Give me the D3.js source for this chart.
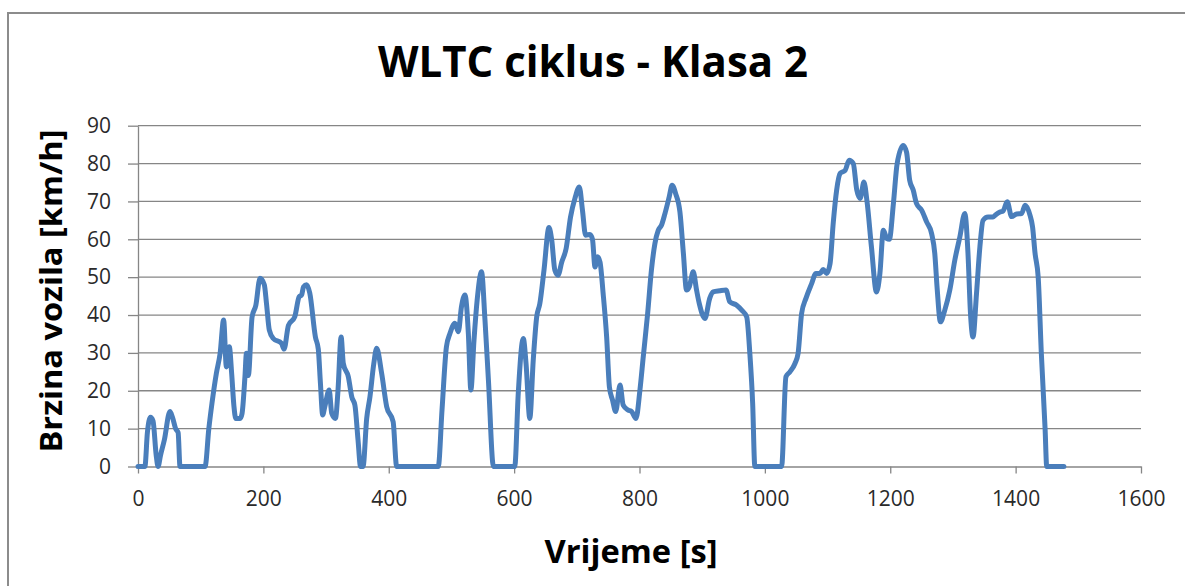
<!DOCTYPE html>
<html>
<head>
<meta charset="utf-8">
<script src="https://cdn.jsdelivr.net/npm/d3@7"></script>
<style>
  html, body { margin: 0; padding: 0; background: #ffffff; }
  svg { display: block; }
  text { font-family: "Open Sans", "Liberation Sans", sans-serif; }
</style>
</head>
<body>
<svg id="chart" width="1185" height="586"></svg>
<script>
// WLTC class 2 driving cycle: time [s] and vehicle speed [km/h]
const timeS = [
  0, 11, 15, 20, 24, 29, 32, 36, 42, 51, 55, 60, 64, 67, 107, 113, 118, 125, 131, 136.6,
  141, 145.7, 149.4, 153, 156, 163, 166, 170.6, 173, 176, 182, 188, 194.6, 201.5, 205, 209.5,
  215.8, 229, 233, 240, 250, 257, 261, 264, 269, 274, 283, 287.6, 291, 294.6, 298, 305, 309,
  315, 319, 324, 327.5, 335.5, 341, 346, 351, 355, 359, 364.8, 370, 376, 380.7, 388.7, 396.7,
  407, 412.6, 479, 485, 492, 497.6, 505.6, 511, 516, 521.6, 527, 531, 536, 541, 548, 553.5,
  559, 567, 601, 606.6, 614.6, 619, 625, 630.5, 636, 641, 647.6, 655.6, 660, 665, 670, 676,
  683, 690, 697, 704, 709, 714, 721, 725, 729, 733, 737, 742, 747.6, 752, 757, 762, 769, 774,
  782, 787.5, 794.4, 800.7, 806, 813, 819, 824.6, 830, 835, 840.6, 847.4, 852, 857.6, 864.5,
  870, 875, 879.5, 885.7, 891, 895.4, 904.4, 912, 917.7, 928, 938, 944, 955, 963, 971, 976,
  980.5, 984, 1026.7, 1033.6, 1040, 1048, 1053, 1058.6, 1065.5, 1074.6, 1081.5, 1088, 1093,
  1098.6, 1104, 1109, 1114.5, 1120, 1128, 1134.5, 1141, 1146.6, 1152, 1158, 1163, 1170, 1178,
  1183.5, 1189, 1194.6, 1198.6, 1205, 1211, 1220.7, 1226, 1231, 1236.6, 1242, 1250, 1258,
  1266, 1271, 1275, 1280, 1287, 1295, 1303, 1311, 1319, 1324, 1328, 1332, 1337.6, 1343, 1348,
  1356, 1364, 1367, 1375, 1380, 1386.6, 1393.6, 1401.6, 1409.6, 1415, 1423, 1427, 1431, 1436,
  1441, 1447, 1449.6, 1477
];
const speedKmh = [
  0, 0, 9, 13, 12, 3, 0, 3, 7, 14.5, 13, 10, 9, 0, 0, 10, 16.7, 24.6, 29.9, 38.7,
  26.3, 31.6, 24.6, 16, 12.7, 12.7, 14, 23.7, 29.9, 24, 39.5, 42.6, 49.7, 48, 43, 36,
  33.8, 32.5, 31, 37.3, 39.5, 44.8, 45.3, 47.4, 48, 45.8, 34.2, 31, 22, 13.6, 15.8, 20.2, 14.1,
  12.7, 20, 34.2, 27.2, 23.7, 18.4, 16.2, 7, 0, 0, 12.7, 18.4, 27, 31.2, 24.6, 15.8,
  11.8, 0, 0, 15, 31.6, 35.1, 37.8, 35.6, 42.2, 45.3, 35.1, 20.2, 33.4, 43.9, 51.4, 38.7,
  22.8, 0, 0, 19.3, 33.8, 27.2, 12.7, 28.1, 39.5, 43, 51.8, 63.1, 59.8, 51.8, 50.5, 54,
  57.6, 65.9, 70.8, 73.8, 67.7, 61.1, 61.3, 60, 52.7, 55.4, 54, 45.7, 34.2, 21, 17.5, 14.5, 21.5, 16.2,
  14.9, 14.5, 12.7, 20.2, 29, 40.4, 51.8, 58.9, 62.4, 63.7, 66.8, 71.2, 74.3, 72.1, 67.2,
  56.3, 46.6, 47.5, 51.4, 46.6, 43, 39.1, 44.4, 46.1, 46.4, 46.6, 43.5, 42.6, 41.3, 39.5, 29.9,
  16.7, 0, 0, 23.7, 25, 27.2, 29.9, 40.4, 44.4, 48.3, 51, 51, 52,
  51, 53.6, 64.2, 73, 77.4, 78.2, 80.9, 80, 73, 70.8, 75.1, 69.9, 58, 46.1,
  51, 62.4, 60.2, 60, 69.4, 80, 84.8, 83, 75.6, 73, 69.4, 67.7, 64.6,
  61.5, 56.3, 46.6, 38.2, 41.3, 46.6, 54.5, 60.6, 66.8, 56.3, 40.4, 34.2, 45.7, 58, 65,
  65.9, 65.9, 66.3, 67.2, 67.5, 69.9, 66, 66.7, 66.8, 69, 66.3, 63.3, 56.3, 50,
  29.9, 10, 0, 0
];
const xTicks = [0, 200, 400, 600, 800, 1000, 1200, 1400, 1600];
const yTicks = [0, 10, 20, 30, 40, 50, 60, 70, 80, 90];

const titleText = "WLTC ciklus - Klasa 2";
const xTitle = "Vrijeme [s]";
const yTitle = "Brzina vozila [km/h]";

const svg = d3.select("#chart");
const gridColor = "#868686";
const lineColor = "#4a7ebb";

// Outer chart frame (top and left edges visible)
svg.append("rect")
  .attr("x", 8).attr("y", 13)
  .attr("width", 1200).attr("height", 600)
  .attr("fill", "#ffffff")
  .attr("stroke", "#8c8c8c")
  .attr("stroke-width", 2);

const x = d3.scaleLinear().domain([0, 1600]).range([138, 1141]);
const y = d3.scaleLinear().domain([0, 90]).range([466.5, 125.7]);

// Horizontal gridlines
svg.append("g")
  .selectAll("line")
  .data(yTicks.filter(d => d > 0))
  .join("line")
  .attr("x1", x(0)).attr("x2", x(1600))
  .attr("y1", d => y(d)).attr("y2", d => y(d))
  .attr("stroke", gridColor)
  .attr("stroke-width", 1.3);

// Y axis
const yAxis = svg.append("g")
  .attr("transform", `translate(${x(0)},0)`)
  .call(d3.axisLeft(y).tickValues(yTicks).tickFormat(d3.format("d"))
    .tickSize(10).tickPadding(17).tickSizeOuter(0));
yAxis.select(".domain").attr("stroke", gridColor).attr("stroke-width", 1.3);
yAxis.selectAll(".tick line").attr("stroke", gridColor).attr("stroke-width", 1.3);
yAxis.selectAll(".tick text")
  .attr("font-family", "'Open Sans', sans-serif")
  .attr("font-size", 21)
  .attr("fill", "#2a2a2a");

// X axis
const xAxis = svg.append("g")
  .attr("transform", `translate(0,${y(0)})`)
  .call(d3.axisBottom(x).tickValues(xTicks).tickFormat(d3.format("d"))
    .tickSize(7).tickPadding(18).tickSizeOuter(0));
xAxis.select(".domain").attr("stroke", gridColor).attr("stroke-width", 1.3);
xAxis.selectAll(".tick line").attr("stroke", gridColor).attr("stroke-width", 1.3);
xAxis.selectAll(".tick text")
  .attr("font-family", "'Open Sans', sans-serif")
  .attr("font-size", 21)
  .attr("fill", "#2a2a2a");

// Speed trace
const points = timeS.map((t, i) => [t, speedKmh[i]]);
const line = d3.line()
  .x(d => x(d[0]))
  .y(d => y(d[1]))
  .curve(d3.curveMonotoneX);
svg.append("path")
  .datum(points)
  .attr("d", line)
  .attr("fill", "none")
  .attr("stroke", lineColor)
  .attr("stroke-width", 5)
  .attr("stroke-linejoin", "round")
  .attr("stroke-linecap", "round");

// Titles
svg.append("text")
  .attr("x", 593).attr("y", 77)
  .attr("text-anchor", "middle")
  .attr("font-size", 43)
  .attr("font-weight", 700)
  .attr("textLength", 430)
  .attr("lengthAdjust", "spacingAndGlyphs")
  .attr("fill", "#000000")
  .text(titleText);

svg.append("text")
  .attr("x", 631).attr("y", 563)
  .attr("text-anchor", "middle")
  .attr("font-size", 32)
  .attr("font-weight", 700)
  .attr("textLength", 173)
  .attr("lengthAdjust", "spacingAndGlyphs")
  .attr("fill", "#000000")
  .text(xTitle);

svg.append("text")
  .attr("transform", "translate(62,291) rotate(-90)")
  .attr("text-anchor", "middle")
  .attr("font-size", 31)
  .attr("font-weight", 700)
  .attr("textLength", 323)
  .attr("lengthAdjust", "spacingAndGlyphs")
  .attr("fill", "#000000")
  .text(yTitle);
</script>
</body>
</html>
